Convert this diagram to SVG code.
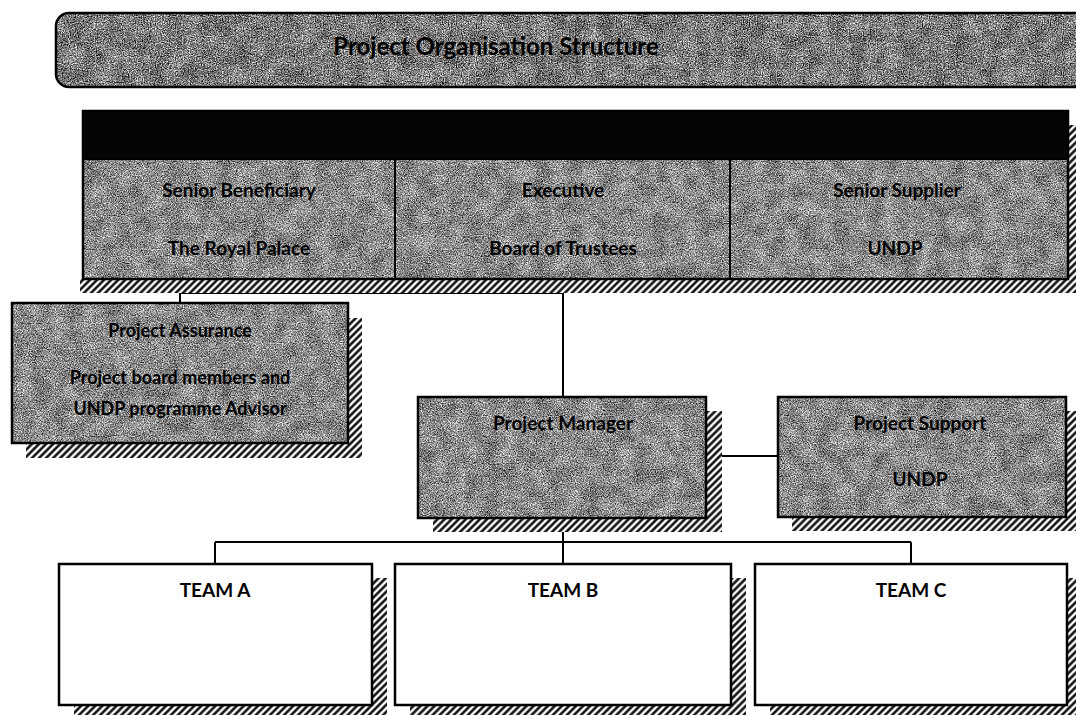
<svg xmlns="http://www.w3.org/2000/svg" width="1076" height="715" viewBox="0 0 1076 715">
<style>
.lbl{font-family:Lato,"Open Sans","Liberation Sans",sans-serif;font-weight:700;fill:#000;text-anchor:middle}
.box{stroke:#000;stroke-width:2.5}
.tex{fill:#8f8f8f;filter:url(#grain)}
.tex2{fill:#8f8f8f;filter:url(#grainDark)}
.blot{fill:#888;filter:url(#blotch)}
.shadow{fill:url(#hatch)}
.conn{stroke:#000;stroke-width:2;fill:none}
</style>
<defs>
<filter id="grain" x="0" y="0" width="100%" height="100%" color-interpolation-filters="sRGB">
<feTurbulence type="fractalNoise" baseFrequency="0.85" numOctaves="3" seed="7" result="n"/>
<feColorMatrix in="n" type="matrix" values="1.7 0 0 0 -0.3  1.7 0 0 0 -0.3  1.7 0 0 0 -0.3  0 0 0 0 1" result="g"/>
<feComposite in="g" in2="SourceGraphic" operator="in"/>
</filter>
<filter id="grainDark" x="0" y="0" width="100%" height="100%" color-interpolation-filters="sRGB">
<feTurbulence type="fractalNoise" baseFrequency="0.85" numOctaves="3" seed="11" result="n"/>
<feColorMatrix in="n" type="matrix" values="1.8 0 0 0 -0.42  1.8 0 0 0 -0.42  1.8 0 0 0 -0.42  0 0 0 0 1" result="g"/>
<feComposite in="g" in2="SourceGraphic" operator="in"/>
</filter>
<filter id="blotch" x="0" y="0" width="100%" height="100%" color-interpolation-filters="sRGB">
<feTurbulence type="fractalNoise" baseFrequency="0.06" numOctaves="3" seed="4" result="n"/>
<feColorMatrix in="n" type="matrix" values="2 0 0 0 -0.5  2 0 0 0 -0.5  2 0 0 0 -0.5  0 0 0 0 0.18" result="g"/>
<feComposite in="g" in2="SourceGraphic" operator="in"/>
</filter>
<pattern id="hatch" width="5" height="5" patternUnits="userSpaceOnUse" patternTransform="rotate(45)">
<rect width="5" height="5" fill="#fff"/>
<line x1="1.5" y1="0" x2="1.5" y2="5" stroke="#000" stroke-width="2.4"/>
</pattern>
</defs>
<rect width="1076" height="715" fill="#fff"/>

<g id="title">
<rect class="tex2" x="56" y="13" width="1040" height="74" rx="13"/>
<rect class="blot" x="56" y="13" width="1040" height="74" rx="13"/>
<rect x="56" y="13" width="1040" height="74" rx="13" fill="none" class="box"/>
<text class="lbl" x="496" y="55" font-size="24" font-weight="900">Project Organisation Structure</text>
</g>

<g id="connectors">
<path class="conn" d="M563 279 V397"/>
<path class="conn" d="M180 293 H563"/>
<path class="conn" d="M180 293 V303"/>
<path class="conn" d="M706 456 H778"/>
<path class="conn" d="M563 518 V564"/>
<path class="conn" d="M215 542 H911"/>
<path class="conn" d="M215 542 V564"/>
<path class="conn" d="M911 542 V564"/>
</g>

<g id="board">
<rect class="shadow" x="1068" y="125" width="8" height="168"/>
<rect class="shadow" x="80" y="279" width="996" height="14"/>
<rect class="tex" x="83" y="111" width="985" height="168"/>
<rect class="blot" x="83" y="111" width="985" height="168"/>
<rect x="83" y="111" width="985" height="48" fill="#050505"/>
<rect x="83" y="111" width="985" height="168" fill="none" class="box"/>
<line x1="83" y1="159" x2="1068" y2="159" stroke="#000" stroke-width="2"/>
<line x1="395" y1="159" x2="395" y2="279" stroke="#000" stroke-width="2"/>
<line x1="730" y1="159" x2="730" y2="279" stroke="#000" stroke-width="2"/>
<text class="lbl" x="239" y="197" font-size="19">Senior Beneficiary</text>
<text class="lbl" x="239" y="255" font-size="19">The Royal Palace</text>
<text class="lbl" x="563" y="197" font-size="19">Executive</text>
<text class="lbl" x="563" y="255" font-size="19">Board of Trustees</text>
<text class="lbl" x="897" y="197" font-size="19">Senior Supplier</text>
<text class="lbl" x="895" y="255" font-size="19">UNDP</text>
</g>

<g id="assurance">
<rect class="shadow" x="26" y="318" width="336" height="140"/>
<rect class="tex" x="12" y="303" width="336" height="140"/>
<rect class="blot" x="12" y="303" width="336" height="140"/>
<rect x="12" y="303" width="336" height="140" fill="none" class="box"/>
<text class="lbl" x="180" y="337" font-size="18">Project Assurance</text>
<text class="lbl" x="180" y="384" font-size="18">Project board members and</text>
<text class="lbl" x="180" y="415" font-size="18">UNDP programme Advisor</text>
</g>

<g id="manager">
<rect class="shadow" x="433" y="411" width="289" height="121"/>
<rect class="tex" x="418" y="397" width="288" height="121"/>
<rect class="blot" x="418" y="397" width="288" height="121"/>
<rect x="418" y="397" width="288" height="121" fill="none" class="box"/>
<text class="lbl" x="563" y="430" font-size="19">Project Manager</text>
</g>

<g id="support">
<rect class="shadow" x="792" y="411" width="284" height="120"/>
<rect class="tex" x="778" y="397" width="288" height="120"/>
<rect class="blot" x="778" y="397" width="288" height="120"/>
<rect x="778" y="397" width="288" height="120" fill="none" class="box"/>
<text class="lbl" x="920" y="430" font-size="19">Project Support</text>
<text class="lbl" x="920" y="486" font-size="19">UNDP</text>
</g>

<g id="teamA">
<rect class="shadow" x="74" y="578" width="313" height="137"/>
<rect x="59" y="564" width="313" height="141" fill="#fff" class="box"/>
<text class="lbl" x="215" y="597" font-size="19">TEAM A</text>
</g>
<g id="teamB">
<rect class="shadow" x="410" y="578" width="336" height="137"/>
<rect x="395" y="564" width="336" height="141" fill="#fff" class="box"/>
<text class="lbl" x="563" y="597" font-size="19">TEAM B</text>
</g>
<g id="teamC">
<rect class="shadow" x="770" y="578" width="306" height="137"/>
<rect x="755" y="564" width="312" height="141" fill="#fff" class="box"/>
<text class="lbl" x="911" y="597" font-size="19">TEAM C</text>
</g>
</svg>
